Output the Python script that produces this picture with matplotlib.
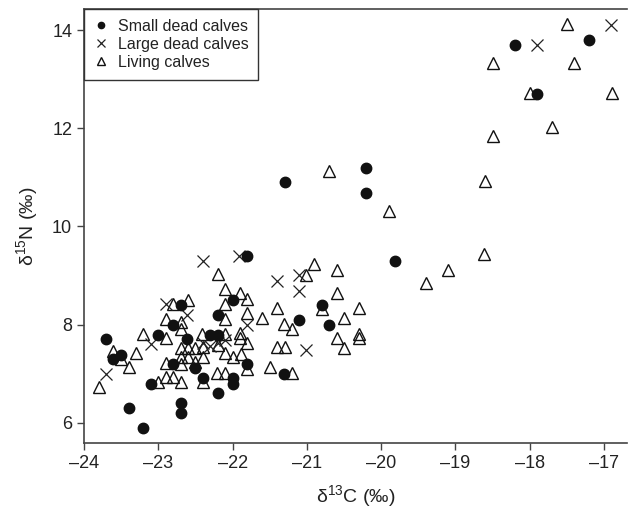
import numpy as np
import matplotlib
matplotlib.use("Agg")
import matplotlib.pyplot as plt

plt.rcParams['font.family'] = ['Liberation Sans', 'DejaVu Sans']
plt.rcParams['mathtext.fontset'] = 'custom'
plt.rcParams['mathtext.rm'] = 'Liberation Sans'

# small dead calves (dots)
small_c = [-23.70, -23.61, -23.50, -23.40, -23.20, -23.10, -23.00, -22.80, -22.80, -22.70,
           -22.70, -22.70, -22.61, -22.50, -22.40, -22.30, -22.20, -22.20, -22.20, -22.00,
           -22.00, -22.00, -21.81, -21.80, -21.30, -21.31, -21.11, -20.80, -20.70, -20.20,
           -20.20, -19.81, -18.20, -17.90, -17.20]
small_n = [7.70, 7.31, 7.39, 6.31, 5.90, 6.80, 7.80, 7.99, 7.20, 8.40,
           6.41, 6.20, 7.70, 7.11, 6.92, 7.80, 7.80, 8.19, 6.60, 8.50,
           6.92, 6.80, 9.40, 7.20, 10.90, 6.99, 8.09, 8.40, 8.00, 11.19,
           10.69, 9.29, 13.69, 12.69, 13.79]

# large dead calves (crosses)
large_c = [-23.70, -23.10, -22.90, -22.61, -22.40, -22.40, -22.30, -22.20, -22.10, -21.91,
           -21.80, -21.40, -21.11, -21.11, -21.01, -17.90, -16.90]
large_n = [6.99, 7.60, 8.42, 8.19, 9.30, 7.62, 7.57, 7.62, 7.68, 9.40,
           7.99, 8.89, 9.01, 8.69, 7.49, 13.69, 14.10]

# living calves (triangles)
living_c = [-23.80, -23.61, -23.50, -23.40, -23.30, -23.20, -23.00, -22.90, -22.90, -22.90,
            -22.90, -22.80, -22.80, -22.70, -22.70, -22.70, -22.70, -22.70, -22.70, -22.60,
            -22.60, -22.60, -22.51, -22.50, -22.41, -22.40, -22.40, -22.40, -22.21, -22.20,
            -22.20, -22.10, -22.10, -22.10, -22.10, -22.10, -22.10, -22.00, -21.90, -21.90,
            -21.90, -21.89, -21.80, -21.80, -21.80, -21.80, -21.61, -21.50, -21.40, -21.40,
            -21.31, -21.30, -21.20, -21.20, -21.01, -20.91, -20.80, -20.70, -20.60, -20.60,
            -20.60, -20.50, -20.50, -20.30, -20.30, -20.30, -19.89, -19.40, -19.10, -18.61,
            -18.60, -18.50, -18.50, -18.00, -17.70, -17.50, -17.40, -16.89]
living_n = [6.73, 7.46, 7.30, 7.14, 7.43, 7.81, 6.84, 8.11, 7.72, 7.21,
            6.94, 8.43, 6.94, 8.06, 7.92, 7.53, 7.34, 7.20, 6.84, 8.51,
            7.53, 7.34, 7.53, 7.24, 7.82, 7.55, 7.34, 6.83, 7.02, 9.04,
            7.58, 8.72, 8.43, 8.11, 7.82, 7.43, 7.02, 7.34, 8.64, 7.83,
            7.72, 7.41, 8.53, 8.23, 7.62, 7.10, 8.13, 7.13, 8.33, 7.54,
            8.02, 7.54, 7.92, 7.02, 9.02, 9.23, 8.32, 11.13, 9.12, 8.64,
            7.73, 8.13, 7.53, 8.33, 7.82, 7.72, 10.32, 8.84, 9.12, 9.43,
            10.92, 11.84, 13.32, 12.72, 12.03, 14.13, 13.32, 12.72]

fig = plt.figure(figsize=(6.28, 5.16), dpi=100)
ax = fig.add_axes([84/628, 73/516, 543/628, 434/516])

ax.plot(living_c, living_n, linestyle='none', marker='^', markersize=9,
        markerfacecolor='none', markeredgecolor='#111111', markeredgewidth=1.0,
        label='Living calves', zorder=2)
ax.plot(large_c, large_n, linestyle='none', marker='x', markersize=8.5,
        color='#222222', markeredgewidth=0.9, label='Large dead calves', zorder=3)
ax.plot(small_c, small_n, linestyle='none', marker='o', markersize=7.5,
        color='#111111', label='Small dead calves', zorder=4)

ax.set_xlim(-24, -16.69)
ax.set_ylim(5.59, 14.43)
ax.set_xticks(range(-24, -16))
ax.set_xticklabels(['\u2013' + str(abs(v)) for v in range(-24, -16)])
ax.set_yticks([6, 8, 10, 12, 14])

for s in ['left', 'bottom', 'top']:
    ax.spines[s].set_color('#444444')
    ax.spines[s].set_linewidth(1.2)
ax.spines['right'].set_visible(False)
ax.tick_params(direction='out', length=5, width=1, colors='#444444',
               labelsize=13, labelcolor='#222222')

ax.set_xlabel('\u03b4$^{13}$C (\u2030)', fontsize=14, color='#222222', labelpad=8)
ax.set_ylabel('\u03b4$^{15}$N (\u2030)', fontsize=14, color='#222222', labelpad=8)

h, l = ax.get_legend_handles_labels()
leg = ax.legend(h[::-1], l[::-1], loc='upper left', fontsize=11.5, markerscale=0.6,
                frameon=True, fancybox=False, edgecolor='#333333', framealpha=1,
                borderaxespad=0, handlelength=0.9, handletextpad=0.6,
                labelspacing=0.2, borderpad=0.6, labelcolor='#222222')
leg.get_frame().set_linewidth(1.0)

fig.savefig('out.png', dpi=100)
